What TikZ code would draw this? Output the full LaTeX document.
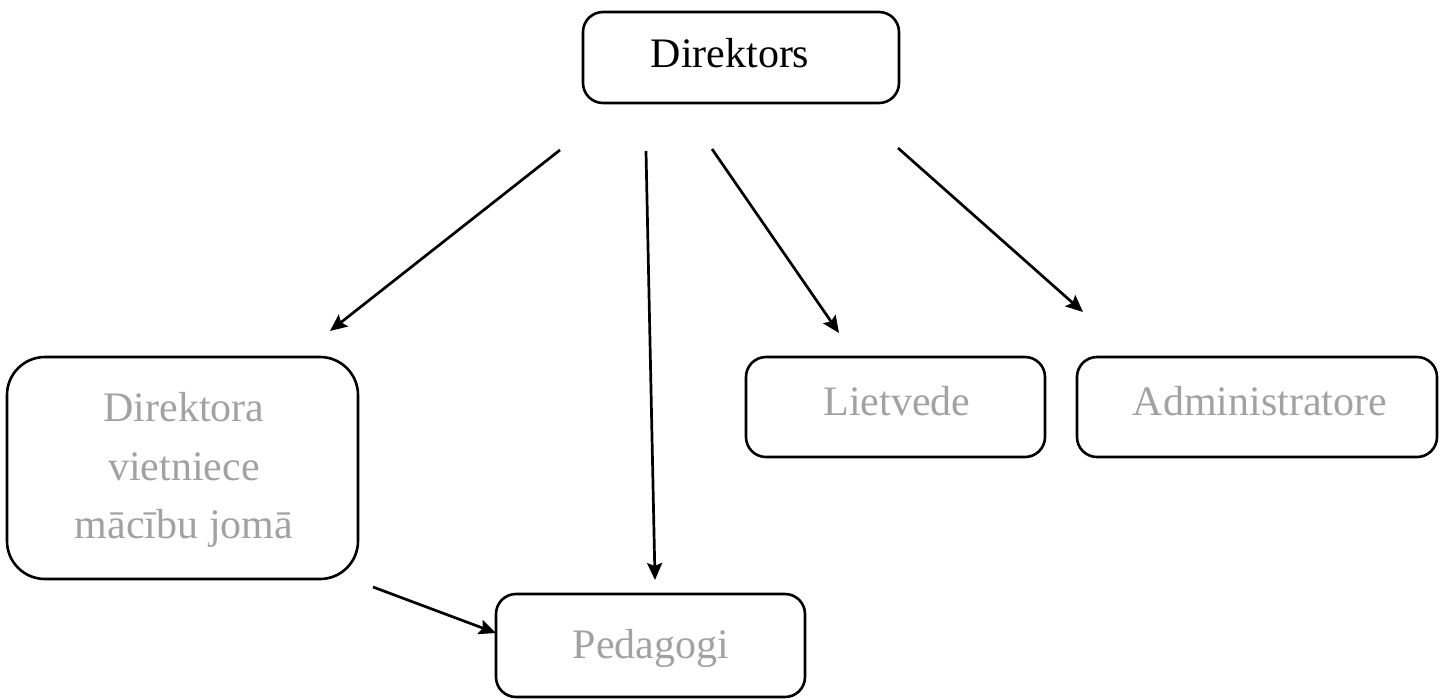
\documentclass[tikz,border=0pt]{standalone}
\usepackage{fontspec}
\setmainfont{Liberation Serif}
\usetikzlibrary{arrows.meta}
\definecolor{lightgraytext}{RGB}{162,162,162}
\begin{document}
\begin{tikzpicture}[x=0.5pt,y=-0.5pt,
  box/.style={draw=black,line width=1.3pt,inner sep=0pt,outer sep=0pt,rounded corners=10pt},
  lbl/.style={anchor=base,inner sep=0pt,font=\fontsize{21pt}{29pt}\selectfont},
  graylbl/.style={lbl,text=lightgraytext},
  conn/.style={line width=1.35pt,-{Stealth[length=8.5pt,width=7.5pt,inset=1.5pt]}}]
\useasboundingbox (0,0) rectangle (1442,698);
% boxes
\node[box,minimum width=158pt,minimum height=45.5pt] (dir) at (741,57.5) {};
\node[box,rounded corners=19pt,minimum width=175.5pt,minimum height=111pt] (viet) at (182.5,468) {};
\node[box,minimum width=154.5pt,minimum height=51.5pt] (ped) at (650.5,645.5) {};
\node[box,minimum width=149.5pt,minimum height=50pt] (liet) at (895.5,407) {};
\node[box,minimum width=180pt,minimum height=50pt] (adm) at (1257,407) {};
% texts
\node[lbl] (tdir) at (730,67) {Direktors};
\node[graylbl] (tv1) at (184,421) {Direktora};
\node[graylbl] (tv2) at (184,480) {vietniece};
\node[graylbl] (tv3) at (184,538) {mācību jomā};
\node[graylbl] (tped) at (651,658) {Pedagogi};
\node[graylbl] (tliet) at (897,415) {Lietvede};
\node[graylbl] (tadm) at (1260,415) {Administratore};
% connector end points
\coordinate (s1) at (560,150);
\coordinate (e1) at (330,331);
\coordinate (s2) at (646,151);
\coordinate (e2) at (655,580);
\coordinate (s3) at (712,149);
\coordinate (e3) at (839,333);
\coordinate (s4) at (898,148);
\coordinate (e4) at (1083,312);
\coordinate (s5) at (373,587);
\coordinate (e5) at (496,633);
\draw[conn] (s1) -- (e1);
\draw[conn] (s2) -- (e2);
\draw[conn] (s3) -- (e3);
\draw[conn] (s4) -- (e4);
\draw[conn] (s5) -- (e5);
\end{tikzpicture}
\end{document}
